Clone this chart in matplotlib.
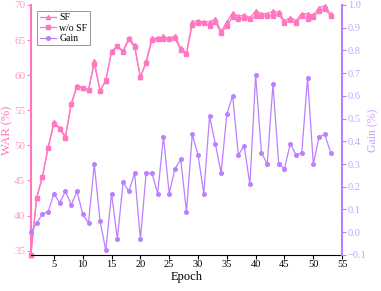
import numpy as np
import matplotlib.pyplot as plt

plt.rcParams['font.family'] = ['Liberation Serif', 'DejaVu Serif']

PINK = "#ff77c0"
PINK_TXT = "#ff99cc"
PURPLE = "#bb80ff"
PURPLE_TXT = "#c8a0ff"

epochs = list(range(1, 54))
war_sf = [34.40, 42.52, 45.54, 49.74, 53.28, 52.46, 51.29, 55.96, 58.49, 58.24,
          57.92, 61.95, 57.82, 59.16, 63.48, 64.09, 63.51, 65.29, 64.23, 59.69,
          62.03, 65.23, 65.28, 65.51, 65.28, 65.54, 63.86, 63.14, 67.61, 67.77,
          67.58, 67.55, 68.00, 66.23, 67.56, 68.90, 68.37, 68.59, 68.20, 69.14,
          68.77, 68.75, 69.12, 68.95, 67.74, 68.19, 67.77, 68.77, 68.74, 68.55,
          69.61, 69.91, 68.77]
war_wo_sf = [34.40, 42.48, 45.46, 49.65, 53.11, 52.33, 51.11, 55.84, 58.31, 58.16,
             57.88, 61.65, 57.77, 59.24, 63.31, 64.12, 63.29, 65.11, 63.97, 59.72,
             61.77, 64.97, 65.11, 65.09, 65.11, 65.26, 63.54, 63.05, 67.18, 67.43,
             67.41, 67.04, 67.61, 65.97, 67.04, 68.30, 68.03, 68.21, 67.99, 68.45,
             68.42, 68.45, 68.47, 68.65, 67.46, 67.80, 67.43, 68.42, 68.06, 68.25,
             69.19, 69.48, 68.42]
gain = [0.00, 0.04, 0.08, 0.09, 0.17, 0.13, 0.18, 0.12, 0.18, 0.08,
        0.04, 0.30, 0.05, -0.08, 0.17, -0.03, 0.22, 0.18, 0.26, -0.03,
        0.26, 0.26, 0.17, 0.42, 0.17, 0.28, 0.32, 0.09, 0.43, 0.34,
        0.17, 0.51, 0.39, 0.26, 0.52, 0.60, 0.34, 0.38, 0.21, 0.69,
        0.35, 0.30, 0.65, 0.30, 0.28, 0.39, 0.34, 0.35, 0.68, 0.30,
        0.42, 0.43, 0.35]

fig = plt.figure(figsize=(3.81, 2.91), dpi=100)
ax = fig.add_axes([0.081, 0.124, 0.817, 0.859])
ax2 = ax.twinx()

l1, = ax.plot(epochs, war_sf, color=PINK, lw=0.9, marker="^", ms=3, label="SF", clip_on=False)
l2, = ax.plot(epochs, war_wo_sf, color=PINK, lw=0.9, marker="s", ms=2.6, label="w/o SF", clip_on=False)
l3, = ax2.plot(epochs, gain, color=PURPLE, lw=0.9, marker="o", ms=2.6, label="Gain", clip_on=False)

ax.set_xlim(1, 55)
ax.set_ylim(34.4, 70)
ax2.set_ylim(-0.1, 1.0)
ax.set_xticks(range(5, 56, 5))
ax.set_yticks(range(35, 71, 5))
ax2.set_yticks(np.round(np.arange(-0.1, 1.01, 0.1), 1))

for a in (ax, ax2):
    a.spines['top'].set_visible(False)
ax.spines['left'].set_color(PINK)
ax.spines['left'].set_linewidth(1.5)
ax.spines['right'].set_visible(False)
ax2.spines['left'].set_visible(False)
ax2.spines['bottom'].set_visible(False)
ax2.spines['right'].set_color(PURPLE)
ax2.spines['right'].set_linewidth(1.5)

ax.tick_params(axis='x', labelsize=7.5, length=3, width=0.8, pad=1)
ax.tick_params(axis='y', colors=PINK, labelcolor=PINK_TXT, labelsize=8, length=3, pad=1)
ax2.tick_params(axis='y', colors=PURPLE, labelcolor=PURPLE_TXT, labelsize=7.5, length=3, pad=1)

ax.set_xlabel("Epoch", fontsize=9, labelpad=1)
ax.set_ylabel("WAR (%)", fontsize=9, color=PINK, labelpad=1)
ax2.set_ylabel("Gain (%)", fontsize=8.5, color=PURPLE_TXT)
ax2.yaxis.set_label_coords(1.082, 0.5)

leg = ax.legend(handles=[l1, l2, l3], loc="upper left", bbox_to_anchor=(0.015, 0.985),
                fontsize=7, fancybox=False, edgecolor="#888888", framealpha=1,
                handlelength=1.7, borderpad=0.25, labelspacing=0.15, handletextpad=0.3,
                borderaxespad=0.2)
leg.get_frame().set_linewidth(0.6)

fig.savefig("out.png", dpi=100)
